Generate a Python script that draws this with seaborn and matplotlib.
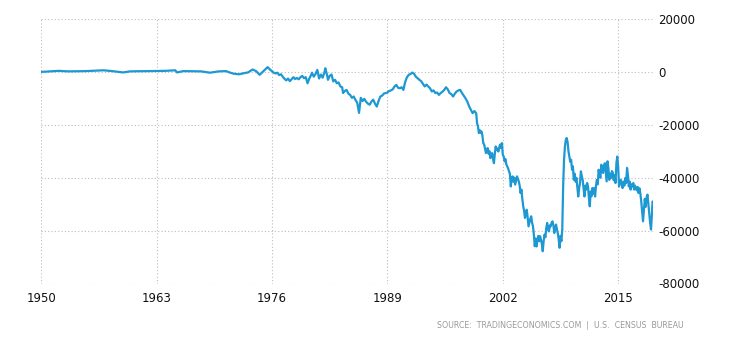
import matplotlib
matplotlib.use("Agg")
import matplotlib.pyplot as plt
import seaborn as sns
import pandas as pd

# US balance of trade, USD million
years = [
    1950.0, 1951.0, 1952.0, 1953.0, 1955.0, 1957.0, 1958.0, 1959.2, 1960.0, 1962.0,
    1964.0, 1965.1, 1965.3, 1966.0, 1968.0, 1969.0, 1970.0, 1970.8, 1971.3, 1971.7,
    1972.3, 1972.8, 1973.3, 1973.8, 1974.2, 1974.6, 1975.0, 1975.5, 1975.8,
    1976.2, 1976.4, 1976.6, 1976.8, 1977.0, 1977.2, 1977.4, 1977.6, 1977.8, 1978.0,
    1978.2, 1978.4, 1978.6, 1978.8, 1979.0, 1979.2, 1979.4, 1979.6, 1979.8, 1980.0,
    1980.2, 1980.4, 1980.5, 1980.7, 1980.9, 1981.1, 1981.3, 1981.5, 1981.7, 1981.9,
    1982.0, 1982.2, 1982.3, 1982.5, 1982.7, 1982.9, 1983.1, 1983.3, 1983.5, 1983.7,
    1983.9, 1984.0, 1984.2, 1984.4, 1984.6, 1984.8, 1985.0, 1985.2, 1985.4, 1985.6,
    1985.8, 1986.0, 1986.2, 1986.4, 1986.6, 1986.8, 1987.0, 1987.2, 1987.4, 1987.6,
    1987.8, 1988.0, 1988.2, 1988.4, 1988.6, 1988.8, 1989.0, 1989.2, 1989.4, 1989.6,
    1989.8, 1990.0, 1990.2, 1990.4, 1990.6, 1990.8, 1991.0, 1991.2, 1991.4, 1991.6,
    1991.8, 1992.0, 1992.2, 1992.4, 1992.6, 1992.8, 1993.0, 1993.2, 1993.4, 1993.6,
    1993.8, 1994.0, 1994.2, 1994.4, 1994.6, 1994.8, 1995.0, 1995.2, 1995.4, 1995.6,
    1995.8, 1996.0, 1996.2, 1996.4, 1996.6, 1996.8, 1997.0, 1997.2, 1997.4, 1997.6,
    1997.8, 1998.0, 1998.2, 1998.4, 1998.6, 1998.8, 1999.0, 1999.1, 1999.2, 1999.3,
    1999.4, 1999.5, 1999.6, 1999.7, 1999.8, 1999.9, 2000.0, 2000.1, 2000.2, 2000.3,
    2000.4, 2000.5, 2000.6, 2000.7, 2000.8, 2000.9, 2001.0, 2001.1, 2001.2, 2001.3,
    2001.4, 2001.5, 2001.6, 2001.7, 2001.8, 2001.9, 2002.0, 2002.1, 2002.2, 2002.3,
    2002.4, 2002.5, 2002.6, 2002.7, 2002.8, 2002.9, 2003.0, 2003.1, 2003.2, 2003.3,
    2003.4, 2003.5, 2003.6, 2003.7, 2003.8, 2003.9, 2004.0, 2004.1, 2004.2, 2004.3,
    2004.4, 2004.5, 2004.6, 2004.7, 2004.8, 2004.9, 2005.0, 2005.1, 2005.2, 2005.3,
    2005.4, 2005.5, 2005.6, 2005.7, 2005.8, 2005.9, 2006.0, 2006.1, 2006.2, 2006.3,
    2006.4, 2006.5, 2006.6, 2006.7, 2006.8, 2006.9, 2007.0, 2007.1, 2007.2, 2007.3,
    2007.4, 2007.5, 2007.6, 2007.7, 2007.8, 2007.9, 2008.0, 2008.1, 2008.2, 2008.3,
    2008.4, 2008.5, 2008.6, 2008.7, 2008.8, 2008.9, 2009.0, 2009.1, 2009.2, 2009.3,
    2009.4, 2009.5, 2009.6, 2009.7, 2009.8, 2009.9, 2010.0, 2010.1, 2010.2, 2010.3,
    2010.4, 2010.5, 2010.6, 2010.7, 2010.8, 2010.9, 2011.0, 2011.1, 2011.2, 2011.3,
    2011.4, 2011.5, 2011.6, 2011.7, 2011.8, 2011.9, 2012.0, 2012.1, 2012.2, 2012.3,
    2012.4, 2012.5, 2012.6, 2012.7, 2012.8, 2012.9, 2013.0, 2013.1, 2013.2, 2013.3,
    2013.4, 2013.5, 2013.6, 2013.7, 2013.8, 2013.9, 2014.0, 2014.1, 2014.2, 2014.3,
    2014.4, 2014.5, 2014.6, 2014.7, 2014.8, 2014.9, 2015.0, 2015.1, 2015.2, 2015.3,
    2015.4, 2015.5, 2015.6, 2015.7, 2015.8, 2015.9, 2016.0, 2016.1, 2016.2, 2016.3,
    2016.4, 2016.5, 2016.6, 2016.7, 2016.8, 2016.9, 2017.0, 2017.1, 2017.2, 2017.3,
    2017.4, 2017.5, 2017.6, 2017.7, 2017.8, 2017.9, 2018.0, 2018.1, 2018.2, 2018.3,
    2018.4, 2018.5, 2018.6, 2018.7, 2018.8, 2018.87,
]
balance = [
    0, 200, 400, 200, 300, 600, 300, -200, 200, 300,
    400, 600, -200, 300, 200, -300, 200, 300, -300, -700,
    -900, -500, -200, 900, 300, -1100, 200, 1800, 800,
    -300, -600, -300, -1200, -900, -1800, -2600, -3200, -2500, -3500,
    -2800, -2000, -2700, -2300, -2800, -2000, -1500, -2400, -2000, -4300,
    -2500, -1200, -300, -1800, -800, 750, -2500, -1000, -2200, -200,
    1400, -1200, -3000, -1500, -1000, -3600, -3000, -4300, -4000, -5500,
    -5800, -8000, -7200, -6800, -8200, -8700, -9800, -9300, -10600, -11700,
    -15500, -9800, -11000, -10200, -11300, -12000, -12400, -11200, -10500, -12000,
    -13100, -11000, -9300, -9000, -8200, -8000, -7800, -7200, -7000, -6600,
    -5500, -4900, -6000, -6200, -5800, -6800, -3800, -2000, -1100, -800,
    -250, -750, -1800, -2400, -3000, -3500, -4500, -5500, -4800, -5500,
    -6200, -7400, -7000, -8000, -7800, -8700, -8000, -7500, -6800, -5800,
    -6600, -8000, -8400, -9300, -8200, -7400, -7000, -6800, -8000, -9000,
    -10000, -11200, -13000, -14300, -15600, -14800, -15600, -19400, -20500, -23100,
    -22000, -23000, -22500, -24000, -26900, -27500, -29000, -30700, -29500, -28800,
    -31000, -30000, -32600, -31500, -30700, -33000, -34500, -31000, -28200, -29500,
    -29000, -30100, -28500, -27500, -28800, -26900, -31300, -32000, -33800, -33000,
    -35000, -35700, -36500, -37600, -38500, -43300, -40500, -39500, -41500, -40000,
    -42600, -41000, -39500, -40500, -41400, -43000, -45800, -44500, -48000, -50800,
    -52500, -55200, -53000, -52100, -55000, -58400, -57000, -55500, -54600, -57000,
    -58400, -61500, -65900, -63000, -66000, -63400, -62000, -64000, -62100, -63400,
    -65000, -67800, -64000, -61500, -62500, -59000, -57100, -59500, -60300, -58000,
    -58400, -57000, -56500, -58000, -60900, -59000, -57700, -59500, -61000, -63400,
    -66500, -62000, -64000, -59600, -43300, -33200, -28200, -25700, -25000, -26500,
    -30000, -32000, -34000, -33200, -37000, -35700, -40800, -38500, -41500, -40100,
    -43500, -47100, -44000, -42000, -37600, -39500, -40800, -44000, -47100, -43000,
    -44500, -42000, -43300, -47500, -50800, -45200, -47000, -43900, -46000, -44000,
    -47100, -43000, -40800, -42500, -37000, -38900, -40000, -35100, -37500, -38200,
    -35500, -34500, -38000, -41400, -33800, -36500, -40800, -38500, -40100, -37500,
    -38200, -41000, -39000, -42000, -34500, -32000, -36000, -43300, -41000, -40800,
    -42500, -43900, -41500, -43000, -40100, -42000, -36300, -39000, -43300, -41500,
    -44500, -42500, -43300, -42000, -44500, -43000, -43900, -44800, -43500, -45800,
    -44000, -46000, -49000, -53000, -56500, -52000, -48000, -51000, -47500, -46400,
    -50000, -54000, -57000, -59600, -54000, -49000,
]

x_ticks = [1950, 1963, 1976, 1989, 2002, 2015]
y_ticks = [20000, 0, -20000, -40000, -60000, -80000]
source_text = "SOURCE:  TRADINGECONOMICS.COM  |  U.S.  CENSUS  BUREAU"

df = pd.DataFrame({"year": years, "balance": balance})

sns.set_style("white")
plt.rcParams["font.family"] = ["DejaVu Sans"]

x_end = 2018.87
px_left, px_right = 41.3, 41.3 + (x_end - 1950) * 8.875
fig = plt.figure(figsize=(7.3, 3.4), dpi=100)
ax = fig.add_axes([px_left / 730, 1 - 283.5 / 340, (px_right - px_left) / 730, (283.5 - 19) / 340])

sns.lineplot(data=df, x="year", y="balance", ax=ax, color="#1d98d3",
             linewidth=1.6, zorder=3)

ax.set_xlim(1950, x_end)
ax.set_ylim(-80000, 20000)
ax.set_xticks(x_ticks)
ax.set_xticklabels([str(t) for t in x_ticks])
ax.set_yticks(y_ticks)
ax.set_yticklabels([str(t) for t in y_ticks])
ax.yaxis.tick_right()
ax.set_xlabel("")
ax.set_ylabel("")

ax.grid(True, linestyle=(0, (1, 2)), color="#bdbdbd", linewidth=0.8, zorder=0)
for s in ax.spines.values():
    s.set_visible(False)

ax.tick_params(axis="both", length=0, labelsize=8.5, colors="#111111")
ax.tick_params(axis="x", pad=6)
ax.tick_params(axis="y", pad=4)
for lbl in ax.get_yticklabels():
    lbl.set_horizontalalignment("left")

fig.text(684 / 730, 1 - 325 / 340, source_text, ha="right", va="center",
         fontsize=5.7, color="#9a9a9a")

fig.savefig("out.png", dpi=100)
